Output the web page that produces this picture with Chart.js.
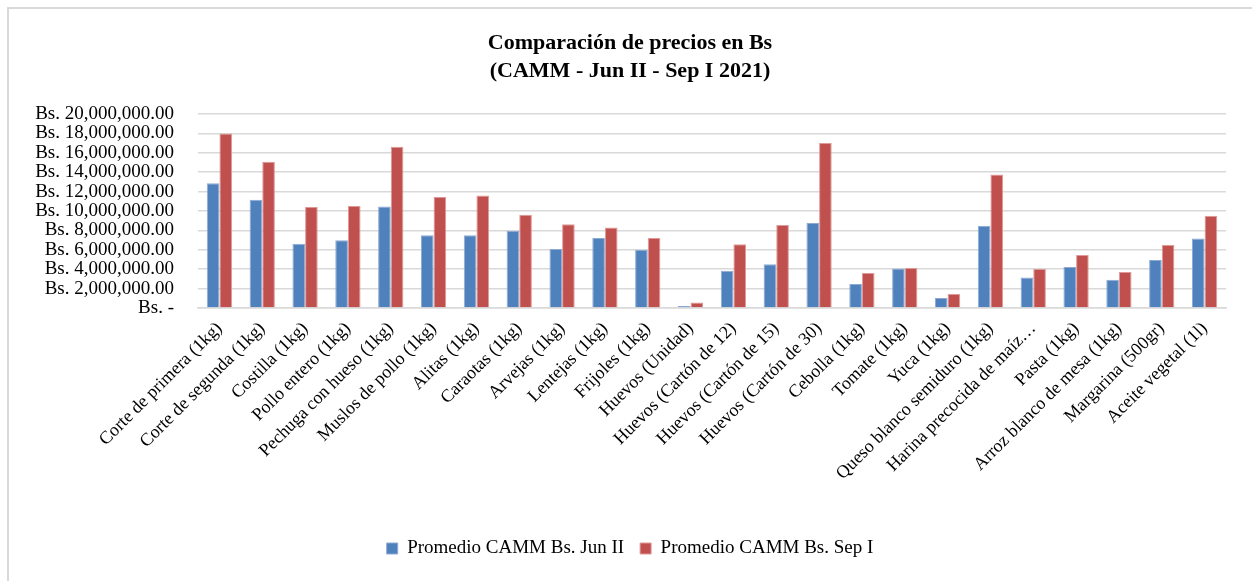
<!DOCTYPE html>
<html>
<head>
    <title>Comparación de precios en Bs</title>
    <script src="https://cdn.jsdelivr.net/npm/chart.js"></script>
    <style>
        html, body {
            margin: 0;
            padding: 0;
            background-color: #fff;
            overflow: hidden;
        }
        #marco {
            position: absolute;
            left: 7px;
            top: 7px;
            width: 1300px;
            height: 640px;
            border: 2px solid #d9d9d9;
        }
        #grafico {
            position: absolute;
            left: 0;
            top: 0;
        }
    </style>
</head>
<body>
    <div id="marco"></div>
    <canvas id="grafico" width="1252" height="581"></canvas>

    <script>
        // Productos (categorias)
        const productos = [
            "Corte de primera (1kg)", "Corte de segunda (1kg)", "Costilla (1kg)", "Pollo entero (1kg)",
            "Pechuga con hueso (1kg)", "Muslos de pollo (1kg)", "Alitas (1kg)", "Caraotas (1kg)",
            "Arvejas (1kg)", "Lentejas (1kg)", "Frijoles (1kg)", "Huevos (Unidad)",
            "Huevos (Cartón de 12)", "Huevos (Cartón de 15)", "Huevos (Cartón de 30)", "Cebolla (1kg)",
            "Tomate (1kg)", "Yuca (1kg)", "Queso blanco semiduro (1kg)", "Harina precocida de maíz…",
            "Pasta (1kg)", "Arroz blanco de mesa (1kg)", "Margarina (500gr)", "Aceite vegetal (1l)"
        ];

        // Promedio CAMM Bs. Jun II
        const junII = [
            12850000, 11160000, 6630000, 6980000, 10470000, 7500000, 7500000, 7950000,
            6080000, 7220000, 6010000, 210000, 3830000, 4500000, 8750000, 2460000,
            4080000, 1040000, 8470000, 3150000, 4220000, 2900000, 4940000, 7150000
        ];

        // Promedio CAMM Bs. Sep I
        const sepI = [
            17970000, 15070000, 10430000, 10500000, 16620000, 11440000, 11600000, 9600000,
            8640000, 8290000, 7220000, 560000, 6570000, 8540000, 17000000, 3600000,
            4110000, 1450000, 13750000, 4010000, 5460000, 3700000, 6500000, 9500000
        ];

        const ejeMin = 0;
        const ejeMax = 20000000;
        const ejePaso = 2000000;

        const fuente = "'Liberation Serif', 'Times New Roman', serif";

        function formatoBs(v) {
            if (v === 0) return "Bs. -";
            return "Bs. " + v.toLocaleString("en-US", { minimumFractionDigits: 2, maximumFractionDigits: 2 });
        }

        const ctx = document.getElementById("grafico").getContext("2d");
        const grafico = new Chart(ctx, {
            type: "bar",
            data: {
                labels: productos,
                datasets: [{
                    label: "Promedio CAMM Bs. Jun II",
                    data: junII,
                    backgroundColor: "#4f81bd",
                    borderColor: "#8eaad3",
                    borderWidth: 1
                }, {
                    label: "Promedio CAMM Bs. Sep I",
                    data: sepI,
                    backgroundColor: "#c0504d",
                    borderColor: "#de9a98",
                    borderWidth: 1
                }]
            },
            options: {
                responsive: false,
                animation: false,
                layout: {
                    padding: { left: 34, right: 26, top: 0, bottom: 13 }
                },
                datasets: {
                    bar: {
                        categoryPercentage: 0.59,
                        barPercentage: 1
                    }
                },
                plugins: {
                    title: {
                        display: true,
                        text: ["Comparación de precios en Bs", "(CAMM - Jun II - Sep I 2021)"],
                        color: "#000",
                        font: { family: fuente, size: 22, weight: "bold", lineHeight: 1.27 },
                        padding: { top: 29, bottom: 29 }
                    },
                    legend: {
                        position: "bottom",
                        labels: {
                            color: "#000",
                            font: { family: fuente, size: 19 },
                            boxWidth: 11,
                            boxHeight: 11,
                            padding: 16
                        }
                    },
                    tooltip: { enabled: false }
                },
                scales: {
                    x: {
                        grid: { display: false },
                        border: { color: "#d9d9d9", width: 1.5 },
                        ticks: {
                            color: "#000",
                            font: { family: fuente, size: 18 },
                            minRotation: 45,
                            maxRotation: 45,
                            autoSkip: false,
                            padding: 2
                        },
                        afterFit: function (scale) {
                            scale.height = 215;
                        }
                    },
                    y: {
                        min: ejeMin,
                        max: ejeMax,
                        grid: { color: "#d9d9d9", lineWidth: 1.5, drawTicks: false },
                        border: { display: false },
                        ticks: {
                            stepSize: ejePaso,
                            autoSkip: false,
                            color: "#000",
                            font: { family: fuente, size: 19 },
                            padding: 24,
                            callback: formatoBs
                        },
                        afterFit: function (scale) {
                            scale.width = 164;
                        }
                    }
                }
            }
        });
    </script>
</body>
</html>
